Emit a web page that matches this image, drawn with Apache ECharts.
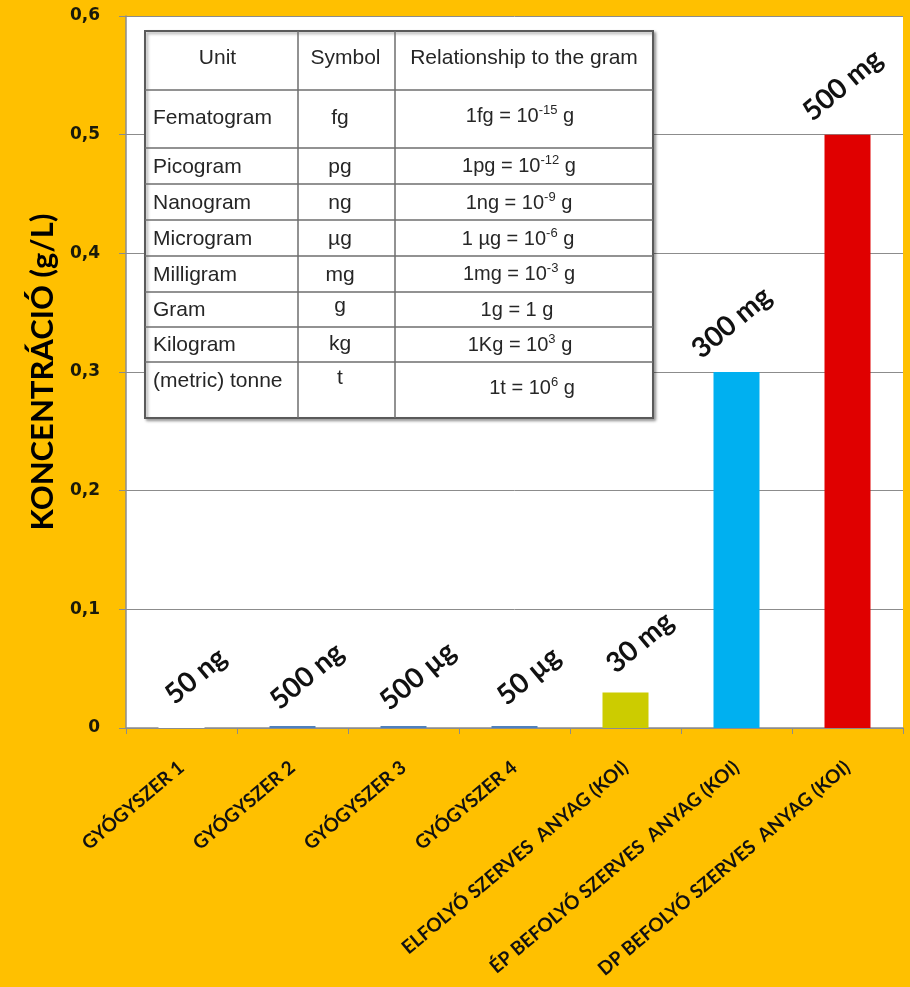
<!DOCTYPE html>
<html>
<head>
<meta charset="utf-8">
<script src="https://cdn.jsdelivr.net/npm/echarts@6/dist/echarts.min.js"></script>
<style>
  html, body { margin: 0; padding: 0; background: #FFC000; }
  #chart { width: 910px; height: 987px; }
</style>
</head>
<body>
<div id="chart"></div>
<script>
// Categories along the x axis
const categories = [
  'GYÓGYSZER 1',
  'GYÓGYSZER 2',
  'GYÓGYSZER 3',
  'GYÓGYSZER 4',
  'ELFOLYÓ SZERVES  ANYAG (KOI)',
  'ÉP BEFOLYÓ SZERVES  ANYAG (KOI)',
  'DP BEFOLYÓ SZERVES  ANYAG (KOI)'
];
// Concentration in g/L and the amount stated above each bar
const concentrations = [0.00000005, 0.0000005, 0.0005, 0.00005, 0.03, 0.3, 0.5];
const amountLabels = ['50 ng', '500 ng', '500 µg', '50 µg', '30 mg', '300 mg', '500 mg'];
const barColors = ['#FFFFFF', '#4F81BD', '#4F81BD', '#4F81BD', '#CCCC00', '#00B0F0', '#E00000'];

// Y axis ticks
const yMin = 0, yMax = 0.6, yStep = 0.1;

// Unit conversion table
const tableHeader = ['Unit', 'Symbol', 'Relationship to the gram'];
const unitNames = ['Fematogram', 'Picogram', 'Nanogram', 'Microgram', 'Milligram', 'Gram', 'Kilogram', '(metric) tonne'];
const unitSymbols = ['fg', 'pg', 'ng', 'µg', 'mg', 'g', 'kg', 't'];
const relationLeft = ['1fg = 10', '1pg = 10', '1ng = 10', '1 µg = 10', '1mg = 10', '1g = 1 g', '1Kg = 10', '1t = 10'];
const relationExp = ['-15', '-12', '-9', '-6', '-3', '', '3', '6'];

// Table geometry (pixels)
const tX = [145, 298, 395, 653];
const tY = [31, 90, 148, 184, 220, 256, 292, 327, 362, 418];
const rowTextY = [58, 118, 167, 203, 239, 275, 310, 345, 381];
const symTextY = [58, 118, 167, 203, 239, 275, 306, 344, 378];
const relTextY = [58, 116, 166, 203, 239, 274, 310, 345, 388];
const relTextX = [520, 519, 519, 518, 519, 517, 520, 532];

const chart = echarts.init(document.getElementById('chart'));

const txtFont = "'Liberation Sans', Arial, sans-serif";
const labelFont = "Lato, 'Open Sans', sans-serif";
const graphics = [];
// table frame and grid lines
graphics.push({
  type: 'rect', z: 10,
  shape: { x: tX[0], y: tY[0], width: tX[3] - tX[0], height: tY[tY.length - 1] - tY[0] },
  style: { fill: '#FFFFFF', stroke: '#5A5A5A', lineWidth: 2,
           shadowBlur: 3, shadowColor: 'rgba(0,0,0,0.35)', shadowOffsetX: 2, shadowOffsetY: 2 }
});
for (let i = 1; i < tY.length - 1; i++) {
  graphics.push({ type: 'line', z: 11,
    shape: { x1: tX[0], y1: tY[i], x2: tX[3], y2: tY[i] },
    style: { stroke: '#6E6E6E', lineWidth: 1.5 } });
}
for (let i = 1; i < tX.length - 1; i++) {
  graphics.push({ type: 'line', z: 11,
    shape: { x1: tX[i], y1: tY[0], x2: tX[i], y2: tY[tY.length - 1] },
    style: { stroke: '#6E6E6E', lineWidth: 1.5 } });
}
const cellText = (text, x, y, align) => ({
  type: 'text', z: 12, x: x, y: y,
  style: { text: text, fill: '#262626', font: '21px ' + txtFont, align: align, verticalAlign: 'middle' }
});
// header
graphics.push(cellText(tableHeader[0], (tX[0] + tX[1]) / 2 - 4, rowTextY[0], 'center'));
graphics.push(cellText(tableHeader[1], (tX[1] + tX[2]) / 2 - 1, symTextY[0], 'center'));
graphics.push(cellText(tableHeader[2], (tX[2] + tX[3]) / 2, relTextY[0], 'center'));
// rows
unitNames.forEach((name, i) => {
  graphics.push(cellText(name, 153, rowTextY[i + 1], 'left'));
  graphics.push(cellText(unitSymbols[i], 340, symTextY[i + 1], 'center'));
  const exp = relationExp[i];
  graphics.push({
    type: 'text', z: 12, x: relTextX[i], y: relTextY[i + 1],
    style: {
      text: exp ? '{n|' + relationLeft[i] + '}{s|' + exp + '}{n| g}' : '{n|' + relationLeft[i] + '}',
      align: 'center', verticalAlign: 'middle',
      rich: {
        n: { fontSize: 20, fontFamily: txtFont, fill: '#262626', lineHeight: 24, verticalAlign: 'middle' },
        s: { fontSize: 13, fontFamily: txtFont, fill: '#262626', lineHeight: 14, verticalAlign: 'top' }
      }
    }
  });
});

// tall bars carry their label a little further left
const labelOffset = i => (concentrations[i] >= 0.1 ? [28, -41] : [43, -29]);

const option = {
  backgroundColor: '#FFC000',
  animation: false,
  grid: {
    left: 126, right: 7, top: 16, bottom: 259,
    outerBoundsMode: 'none',
    show: true, backgroundColor: '#FFFFFF', borderWidth: 0
  },
  xAxis: {
    type: 'category',
    data: categories,
    axisLine: { lineStyle: { color: '#8C8C8C', width: 1.5 } },
    axisTick: { show: true, alignWithLabel: false, length: 6, lineStyle: { color: '#8C8C8C' } },
    axisLabel: {
      interval: 0, rotate: 40, margin: 37,
      color: '#111111', fontWeight: 'bold', fontSize: 19,
      fontFamily: labelFont
    }
  },
  yAxis: {
    type: 'value',
    min: yMin, max: yMax, interval: yStep,
    name: 'KONCENTRÁCIÓ (g/L)',
    nameLocation: 'middle', nameRotate: 90, nameGap: 66,
    nameTextStyle: { color: '#000000', fontWeight: 'bold', fontSize: 31, fontFamily: labelFont },
    axisLine: { show: true, lineStyle: { color: '#8C8C8C', width: 1.5 } },
    axisTick: { show: true, length: 7, lineStyle: { color: '#8C8C8C' } },
    axisLabel: {
      margin: 26, color: '#1A1A0A', fontWeight: 'bold', fontSize: 17,
      fontFamily: "'DejaVu Sans', Verdana, sans-serif",
      formatter: v => (v === 0 ? '0' : v.toFixed(1).replace('.', ','))
    },
    splitLine: { show: true, lineStyle: { color: '#8C8C8C', width: 1 } }
  },
  series: [{
    type: 'bar',
    barWidth: 46,
    barMinHeight: 2,
    data: concentrations.map((v, i) => ({
      value: v,
      itemStyle: { color: barColors[i] },
      label: { offset: labelOffset(i) }
    })),
    label: {
      show: true,
      position: 'top',
      distance: 0,
      rotate: 40,
      align: 'center',
      verticalAlign: 'middle',
      color: '#111111',
      fontWeight: 'bold',
      fontSize: 28,
      fontFamily: labelFont,
      formatter: p => amountLabels[p.dataIndex]
    }
  }],
  graphic: graphics
};

chart.setOption(option);
</script>
</body>
</html>
